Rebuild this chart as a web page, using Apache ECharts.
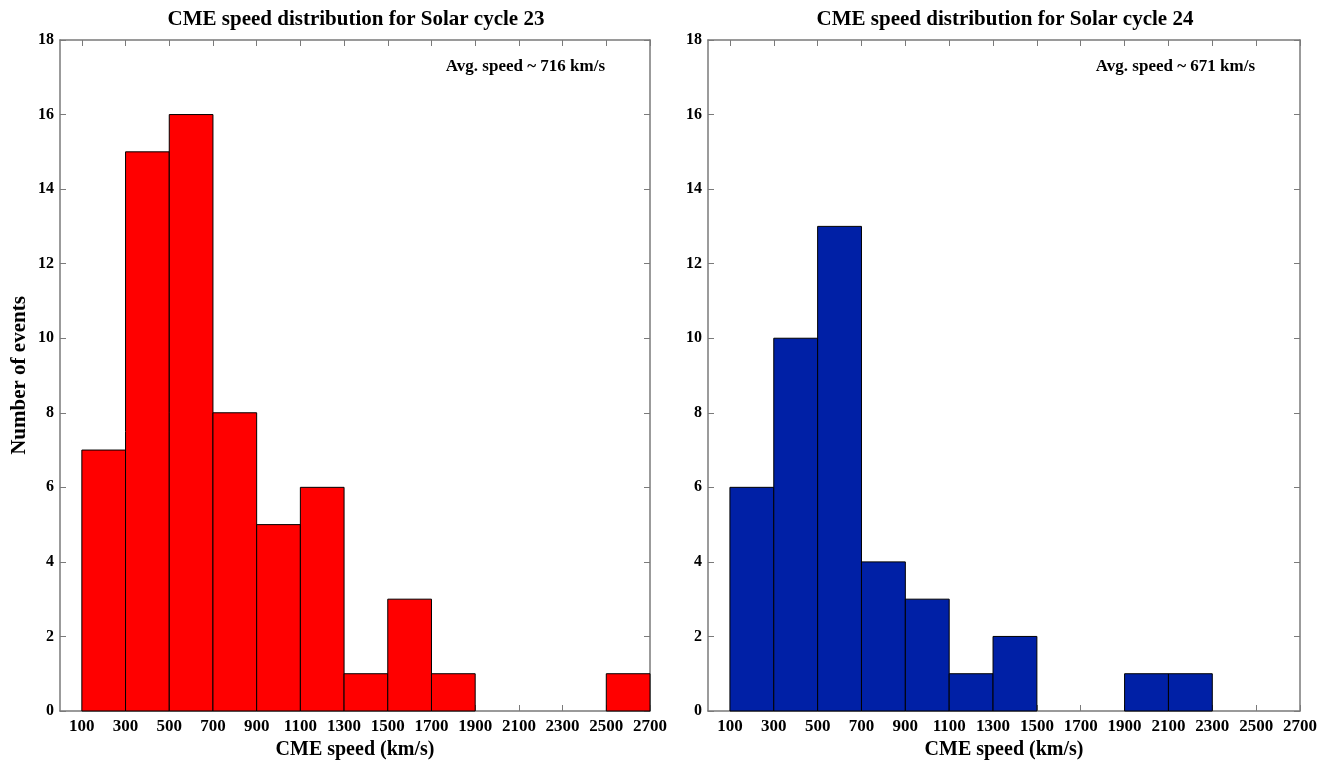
<!DOCTYPE html>
<html>
<head>
<meta charset="utf-8">
<script src="https://cdn.jsdelivr.net/npm/echarts@6/dist/echarts.min.js"></script>
<style>
	html, body { margin: 0; padding: 0; background: #fff; }
	#chart { width: 1328px; height: 761px; }
</style>
</head>
<body>
<div id="chart"></div>
<script>
// bin edges (km/s) and counts per bin
var binStarts = [100, 300, 500, 700, 900, 1100, 1300, 1500, 1700, 1900, 2100, 2300, 2500];
var cycle23 = [7, 15, 16, 8, 5, 6, 1, 3, 1, 0, 0, 0, 1];
var cycle24 = [6, 10, 13, 4, 3, 1, 2, 0, 0, 1, 1, 0, 0];
var binWidth = 200;
var xTicks = [100, 300, 500, 700, 900, 1100, 1300, 1500, 1700, 1900, 2100, 2300, 2500, 2700];
var titles = ['CME speed distribution for Solar cycle 23', 'CME speed distribution for Solar cycle 24'];
var avgTexts = ['Avg. speed ~ 716 km/s', 'Avg. speed ~ 671 km/s'];
var colors = ['#FF0000', '#0020A6'];

var font = 'Liberation Serif';
var axisColor = '#7a7a7a';

var grids = [
	{ left: 60, top: 40, width: 590, height: 671, outerBoundsMode: 'none' },
	{ left: 708, top: 40, width: 592, height: 671, outerBoundsMode: 'none' },
];

function makeData(counts) {
	var out = [];
	binStarts.forEach(function (s, i) {
		if (counts[i] > 0) out.push([s, s + binWidth, counts[i]]);
	});
	return out;
}

function renderBar(params, api) {
	var p0 = api.coord([api.value(0), api.value(2)]);
	var p1 = api.coord([api.value(1), 0]);
	return {
		type: 'rect',
		shape: { x: p0[0], y: p0[1], width: p1[0] - p0[0], height: p1[1] - p0[1] },
		style: api.style({ stroke: '#000', lineWidth: 1 }),
	};
}

var xAxis = [], yAxis = [], series = [], title = [], graphic = [];
grids.forEach(function (g, i) {
	var baseX = {
		type: 'value', gridIndex: i, min: 0, max: 2700,
		splitLine: { show: false },
		axisLine: { show: true, onZero: false, lineStyle: { color: axisColor, width: 1.5 } },
		axisTick: { show: true, inside: true, length: 6, customValues: xTicks, lineStyle: { color: axisColor } },
	};
	xAxis.push(Object.assign({}, baseX, {
		position: 'bottom',
		name: 'CME speed (km/s)', nameLocation: 'middle', nameGap: 22,
		nameTextStyle: { fontFamily: font, fontWeight: 'bold', fontSize: 20, color: '#000' },
		axisLabel: {
			customValues: xTicks, fontFamily: font, fontWeight: 'bold', fontSize: 17, color: '#000', margin: 7,
			formatter: function (v) { return String(v); },
		},
	}));
	xAxis.push(Object.assign({}, baseX, { position: 'top', axisLabel: { show: false } }));

	var baseY = {
		type: 'value', gridIndex: i, min: 0, max: 18, interval: 2,
		splitLine: { show: false },
		axisLine: { show: true, onZero: false, lineStyle: { color: axisColor, width: 1.5 } },
		axisTick: { show: true, inside: true, length: 6, lineStyle: { color: axisColor } },
	};
	yAxis.push(Object.assign({}, baseY, {
		position: 'left',
		name: i === 0 ? 'Number of events' : '', nameLocation: 'middle', nameGap: 30,
		nameTextStyle: { fontFamily: font, fontWeight: 'bold', fontSize: 21, color: '#000' },
		axisLabel: { fontFamily: font, fontWeight: 'bold', fontSize: 16, color: '#000', margin: 6 },
	}));
	yAxis.push(Object.assign({}, baseY, { position: 'right', axisLabel: { show: false } }));

	series.push({
		type: 'custom',
		xAxisIndex: i * 2,
		yAxisIndex: i * 2,
		renderItem: renderBar,
		itemStyle: { color: colors[i] },
		encode: { x: [0, 1], y: 2 },
		data: makeData(i === 0 ? cycle23 : cycle24),
		silent: true,
	});

	title.push({
		text: titles[i],
		left: g.left + g.width / 2 - 4, top: 4, textAlign: 'center',
		textStyle: { fontFamily: font, fontWeight: 'bold', fontSize: 21, color: '#000' },
	});
	graphic.push({
		type: 'text',
		right: 1328 - (g.left + g.width - 45), top: 58,
		style: { text: avgTexts[i], fontFamily: font, fontWeight: 'bold', fontSize: 17, fill: '#000' },
	});
});

var chart = echarts.init(document.getElementById('chart'));
chart.setOption({
	animation: false,
	backgroundColor: '#fff',
	title: title,
	grid: grids,
	xAxis: xAxis,
	yAxis: yAxis,
	series: series,
	graphic: graphic,
});
</script>
</body>
</html>
